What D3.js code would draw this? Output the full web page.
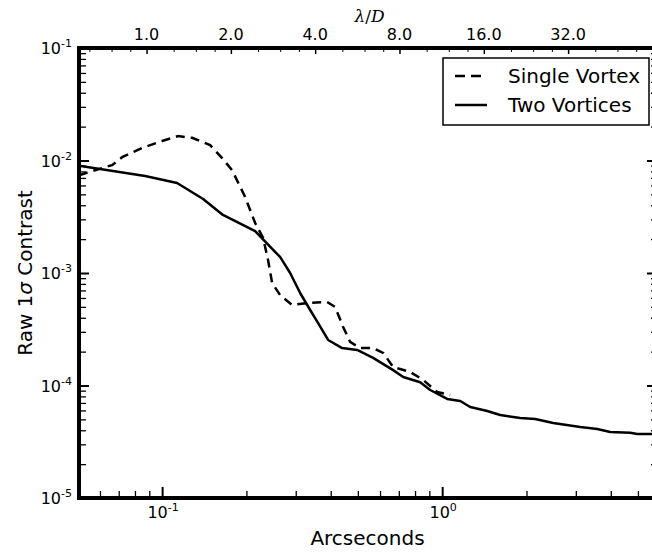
<!DOCTYPE html>
<html>
<head>
<meta charset="utf-8">
<script src="https://cdn.jsdelivr.net/npm/d3@7"></script>
<style>
  body { margin: 0; background: #fff; }
  text { font-family: "DejaVu Sans", sans-serif; fill: #000; }
</style>
</head>
<body>
<div id="chart"></div>
<script>
// axis ranges
const arcsecRange = [0.0505, 5.8];
const contrastRange = [1e-5, 1e-1];
const lambdaOverD = 0.088; // arcsec per lambda/D

// tick labels
const xMajorExp = [-1, 0];
const yMajorExp = [-5, -4, -3, -2, -1];
const lambdaTicks = [1, 2, 4, 8, 16, 32];
const lambdaMinorSubs = [1.25, 1.5, 1.75];

// series: Single Vortex (dashed)
const singleX = [0.0505, 0.0576, 0.0663, 0.0720, 0.0848, 0.100, 0.1141, 0.128, 0.1484, 0.1638, 0.1778, 0.1979,
  0.2149, 0.2295, 0.239, 0.2471, 0.2638, 0.2912, 0.3296, 0.3884, 0.4147, 0.4431, 0.4692, 0.5094, 0.5669,
  0.6156, 0.6683, 0.7686, 0.8554, 0.9597, 1.068];
const singleY = [7.4e-3, 8.2e-3, 9.1e-3, 1.07e-2, 1.29e-2, 1.49e-2, 1.65e-2, 1.59e-2, 1.37e-2, 1.05e-2, 8.2e-3, 4.74e-3,
  2.78e-3, 2.05e-3, 1.30e-3, 8.15e-4, 6.37e-4, 5.2e-4, 5.41e-4, 5.52e-4, 4.99e-4, 3.31e-4, 2.44e-4, 2.15e-4, 2.15e-4,
  1.95e-4, 1.46e-4, 1.32e-4, 1.12e-4, 8.75e-5, 8.23e-5];

// series: Two Vortices (solid)
const twoX = [0.0505, 0.0870, 0.1131, 0.1401, 0.1649, 0.2149, 0.2532, 0.2638, 0.2865, 0.3111, 0.3378, 0.3607,
  0.3916, 0.4394, 0.4970, 0.5669, 0.6683, 0.7258, 0.8345, 0.9061, 1.042, 1.160, 1.259, 1.448, 1.611, 1.899,
  2.148, 2.491, 3.111, 3.578, 3.981, 4.693, 4.972, 5.8];
const twoY = [9.0e-3, 7.28e-3, 6.31e-3, 4.55e-3, 3.28e-3, 2.36e-3, 1.54e-3, 1.39e-3, 1.0e-3, 6.64e-4, 4.69e-4, 3.59e-4,
  2.54e-4, 2.15e-4, 2.07e-4, 1.76e-4, 1.37e-4, 1.19e-4, 1.07e-4, 9.12e-5, 7.59e-5, 7.28e-5, 6.44e-5, 5.93e-5, 5.47e-5, 5.14e-5,
  5.04e-5, 4.64e-5, 4.28e-5, 4.10e-5, 3.86e-5, 3.8e-5, 3.71e-5, 3.71e-5];

const seriesNames = ["Single Vortex", "Two Vortices"];

const width = 652, height = 553;
const plotLeft = 79, plotRight = 656, plotTop = 48, plotBottom = 498;

const x = d3.scaleLog().domain(arcsecRange).range([plotLeft, plotRight]);
const y = d3.scaleLog().domain(contrastRange).range([plotBottom, plotTop]);
const lam = d3.scaleLog().domain(arcsecRange.map(v => v / lambdaOverD)).range([plotLeft, plotRight]);

// minor ticks 2..9 per decade
function decadeMinor(lo, hi) {
  const out = [];
  for (let e = Math.floor(Math.log10(lo)); e <= Math.ceil(Math.log10(hi)); e++) {
    for (let m = 2; m <= 9; m++) {
      const v = m * Math.pow(10, e);
      if (v >= lo && v <= hi) out.push(v);
    }
  }
  return out;
}
const lamDom = lam.domain();
const lambdaMinor = [];
[0.5].concat(lambdaTicks).forEach(t => lambdaMinorSubs.forEach(s => {
  const v = t * s;
  if (v > lamDom[0] && v < lamDom[1]) lambdaMinor.push(v);
}));
const lamMajorAll = [0.5].concat(lambdaTicks, [64]).filter(v => v > lamDom[0] && v < lamDom[1]);

const svg = d3.select("#chart").append("svg")
  .attr("width", width)
  .attr("height", height)
  .attr("viewBox", `0 0 ${width} ${height}`);

svg.append("defs").append("clipPath").attr("id", "plot-clip")
  .append("rect").attr("x", plotLeft).attr("y", plotTop)
  .attr("width", plotRight - plotLeft).attr("height", plotBottom - plotTop);

// tick helper: draw axis ticks only, no domain or labels
function ticks(axis, tx, ty, sw) {
  const g = svg.append("g").attr("transform", `translate(${tx},${ty})`)
    .call(axis.tickSizeOuter(0).tickFormat(() => ""));
  g.select(".domain").remove();
  g.selectAll(".tick line").attr("stroke", "#000").attr("stroke-width", sw);
  return g;
}

// bottom (arcsec), ticks pointing inward
ticks(d3.axisTop(x).tickValues(xMajorExp.map(e => Math.pow(10, e))).tickSize(11), 0, plotBottom, 2);
ticks(d3.axisTop(x).tickValues(decadeMinor(arcsecRange[0], arcsecRange[1])).tickSize(7), 0, plotBottom, 1.3);
// left
ticks(d3.axisRight(y).tickValues(yMajorExp.map(e => Math.pow(10, e))).tickSize(10), plotLeft, 0, 2);
ticks(d3.axisRight(y).tickValues(decadeMinor(contrastRange[0], contrastRange[1])).tickSize(7), plotLeft, 0, 1.3);
// right
ticks(d3.axisLeft(y).tickValues(yMajorExp.map(e => Math.pow(10, e))).tickSize(9), plotRight, 0, 2);
ticks(d3.axisLeft(y).tickValues(decadeMinor(contrastRange[0], contrastRange[1])).tickSize(5), plotRight, 0, 1.3);
// top (lambda/D)
ticks(d3.axisBottom(lam).tickValues(lamMajorAll).tickSize(6), 0, plotTop, 1.5);
ticks(d3.axisBottom(lam).tickValues(lambdaMinor).tickSize(4), 0, plotTop, 1);

// curves
const line = d3.line().x(d => x(d[0])).y(d => y(d[1]));
const plot = svg.append("g").attr("clip-path", "url(#plot-clip)");
plot.append("path")
  .datum(twoX.map((v, i) => [v, twoY[i]]))
  .attr("d", line)
  .attr("fill", "none").attr("stroke", "#000").attr("stroke-width", 2.5)
  .attr("stroke-linejoin", "round");
plot.append("path")
  .datum(singleX.map((v, i) => [v, singleY[i]]))
  .attr("d", line)
  .attr("fill", "none").attr("stroke", "#000").attr("stroke-width", 2.5)
  .attr("stroke-dasharray", "9,6");

// spines
const spine = svg.append("g").attr("stroke", "#000").attr("stroke-width", 4).attr("stroke-linecap", "square");
spine.append("line").attr("x1", plotLeft).attr("x2", plotLeft).attr("y1", plotTop).attr("y2", plotBottom);
spine.append("line").attr("x1", plotLeft).attr("x2", plotRight).attr("y1", plotBottom).attr("y2", plotBottom);
spine.append("line").attr("x1", plotLeft).attr("x2", plotRight).attr("y1", plotTop).attr("y2", plotTop);
spine.append("line").attr("x1", plotRight).attr("x2", plotRight).attr("y1", plotTop).attr("y2", plotBottom);

// power-of-ten labels
function powLabel(sel, e) {
  sel.append("tspan").text("10");
  sel.append("tspan").attr("dy", -7).attr("font-size", 11).text(e);
}
xMajorExp.forEach(e => {
  const t = svg.append("text").attr("x", x(Math.pow(10, e)) + 1).attr("y", 518)
    .attr("text-anchor", "middle").attr("font-size", 16);
  powLabel(t, e);
});
yMajorExp.forEach(e => {
  const t = svg.append("text").attr("x", 72).attr("y", y(Math.pow(10, e)) + 6)
    .attr("text-anchor", "end").attr("font-size", 16);
  powLabel(t, e);
});
lambdaTicks.forEach(v => {
  svg.append("text").attr("x", lam(v)).attr("y", 40)
    .attr("text-anchor", "middle").attr("font-size", 16)
    .text(v.toFixed(1));
});

// axis titles
svg.append("text").attr("x", (plotLeft + plotRight) / 2).attr("y", 545)
  .attr("text-anchor", "middle").attr("font-size", 20).text("Arcseconds");
const yl = svg.append("text").attr("transform", `translate(32,${(plotTop + plotBottom) / 2}) rotate(-90)`)
  .attr("text-anchor", "middle").attr("font-size", 20);
yl.append("tspan").text("Raw 1");
yl.append("tspan").attr("font-style", "italic").text("σ");
yl.append("tspan").text(" Contrast");
const tl = svg.append("text").attr("x", (plotLeft + plotRight) / 2 + 2).attr("y", 22)
  .attr("text-anchor", "middle").attr("font-size", 17)
  .style("font-family", "'DejaVu Serif', serif");
tl.append("tspan").attr("font-style", "italic").text("λ");
tl.append("tspan").text("/");
tl.append("tspan").attr("font-style", "italic").text("D");

// legend
const lg = svg.append("g").attr("transform", "translate(443,58)");
lg.append("rect").attr("width", 206).attr("height", 67)
  .attr("fill", "#fff").attr("stroke", "#000").attr("stroke-width", 1.5);
seriesNames.forEach((name, i) => {
  const yy = 18 + i * 29;
  lg.append("line").attr("x1", 12).attr("x2", 44).attr("y1", yy).attr("y2", yy)
    .attr("stroke", "#000").attr("stroke-width", 2.5)
    .attr("stroke-dasharray", i === 0 ? "10,6" : null);
  lg.append("text").attr("x", 65).attr("y", yy + 7).attr("font-size", 20).text(name);
});
</script>
</body>
</html>
